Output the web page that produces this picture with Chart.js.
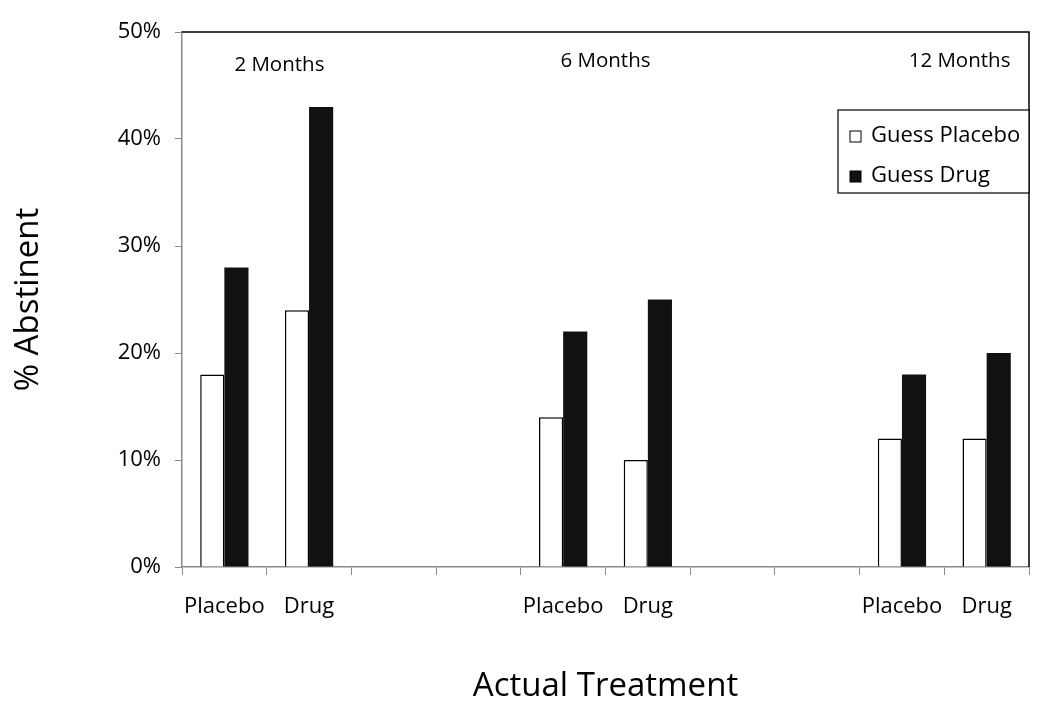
<!DOCTYPE html>
<html>
<head>
<meta charset="utf-8">
<script src="https://cdn.jsdelivr.net/npm/chart.js@4.4.0/dist/chart.umd.min.js"></script>
<style>
  html, body { margin: 0; padding: 0; background: #fff; }
  #wrap { width: 1050px; height: 712px; }
</style>
</head>
<body>
<div id="wrap"><canvas id="chart" width="1050" height="712"></canvas></div>
<script>
// Categories along the x axis (blank slots separate the time points)
const categories = ['Placebo', 'Drug', '', '', 'Placebo', 'Drug', '', '', 'Placebo', 'Drug'];

// % abstinent, by the treatment participants guessed
const guessPlacebo = [18, 24, null, null, 14, 10, null, null, 12, 12];
const guessDrug = [28, 43, null, null, 22, 25, null, null, 18, 20];

// Follow-up labels and the category slot they sit over
const monthLabels = ['2 Months', '6 Months', '12 Months'];
const monthSlots = [0.65, 4.5, 8.68];

const yTicks = [0, 10, 20, 30, 40, 50];

const FONT = "'Open Sans', 'DejaVu Sans', sans-serif";

// Draws the top/right frame, the follow-up labels and the boxed legend
const annotations = {
    id: 'annotations',
    afterDraw(chart) {
        const ctx = chart.ctx;
        const area = chart.chartArea;
        const x = chart.scales.x;
        const y = chart.scales.y;

        ctx.save();
        // frame on top and right
        ctx.strokeStyle = '#000';
        ctx.lineWidth = 1.5;
        ctx.beginPath();
        ctx.moveTo(area.left, area.top);
        ctx.lineTo(area.right, area.top);
        ctx.lineTo(area.right, area.bottom);
        ctx.stroke();

        // month labels
        ctx.fillStyle = '#000';
        ctx.font = '20.5px ' + FONT;
        ctx.textAlign = 'center';
        ctx.textBaseline = 'middle';
        monthLabels.forEach((label, i) => {
            ctx.fillText(label, x.getPixelForValue(monthSlots[i]), y.getPixelForValue(i === 0 ? 46.9 : 47.3));
        });

        // legend box
        const boxW = 191, boxH = 83;
        const bx = area.right - boxW;
        const by = area.top + 78;
        ctx.fillStyle = '#fff';
        ctx.fillRect(bx, by, boxW, boxH);
        ctx.strokeStyle = '#000';
        ctx.lineWidth = 1.2;
        ctx.strokeRect(bx, by, boxW, boxH);

        ctx.font = '22px ' + FONT;
        ctx.textAlign = 'left';
        chart.data.datasets.forEach((ds, i) => {
            const cy = by + 26 + i * 40;
            ctx.fillStyle = ds.backgroundColor;
            ctx.fillRect(bx + 12, cy - 5, 11, 11);
            ctx.strokeStyle = '#000';
            ctx.lineWidth = 1;
            ctx.strokeRect(bx + 12, cy - 5, 11, 11);
            ctx.fillStyle = '#000';
            ctx.fillText(ds.label, bx + 33, cy);
        });
        ctx.restore();
    }
};

new Chart(document.getElementById('chart'), {
    type: 'bar',
    data: {
        labels: categories,
        datasets: [
            {
                label: 'Guess Placebo',
                data: guessPlacebo,
                backgroundColor: '#ffffff',
                borderColor: '#000000',
                borderWidth: 1.5,
                borderSkipped: 'bottom'
            },
            {
                label: 'Guess Drug',
                data: guessDrug,
                backgroundColor: '#111111',
                borderColor: '#111111',
                borderWidth: 0
            }
        ]
    },
    options: {
        responsive: false,
        animation: false,
        categoryPercentage: 0.57,
        barPercentage: 1.0,
        layout: { padding: { left: 0, top: 32, right: 21, bottom: 0 } },
        plugins: {
            legend: { display: false },
            tooltip: { enabled: false }
        },
        scales: {
            x: {
                grid: { drawOnChartArea: false, drawTicks: true, tickLength: 8, color: '#8a8a8a', offset: true },
                border: { color: '#8a8a8a', width: 1.5 },
                ticks: {
                    color: '#000',
                    font: { family: FONT, size: 22 },
                    padding: 19,
                    maxRotation: 0,
                    autoSkip: false
                },
                title: {
                    display: true,
                    text: 'Actual Treatment',
                    color: '#000',
                    font: { family: FONT, size: 33 },
                    padding: { top: 0, bottom: 6 }
                },
                afterFit(scale) { scale.height = 145; }
            },
            y: {
                min: 0,
                max: 50,
                afterBuildTicks(scale) { scale.ticks = yTicks.map(v => ({ value: v })); },
                grid: { drawOnChartArea: false, drawTicks: true, tickLength: 7, color: '#8a8a8a' },
                border: { color: '#8a8a8a', width: 1.5 },
                ticks: {
                    color: '#000',
                    font: { family: FONT, size: 22 },
                    padding: 14,
                    callback: (v) => v + '%'
                },
                title: {
                    display: true,
                    text: '% Abstinent',
                    color: '#000',
                    font: { family: FONT, size: 33 },
                    padding: { top: 9, bottom: 0 }
                },
                afterFit(scale) { scale.width = 182; }
            }
        }
    },
    plugins: [annotations]
});
</script>
</body>
</html>
